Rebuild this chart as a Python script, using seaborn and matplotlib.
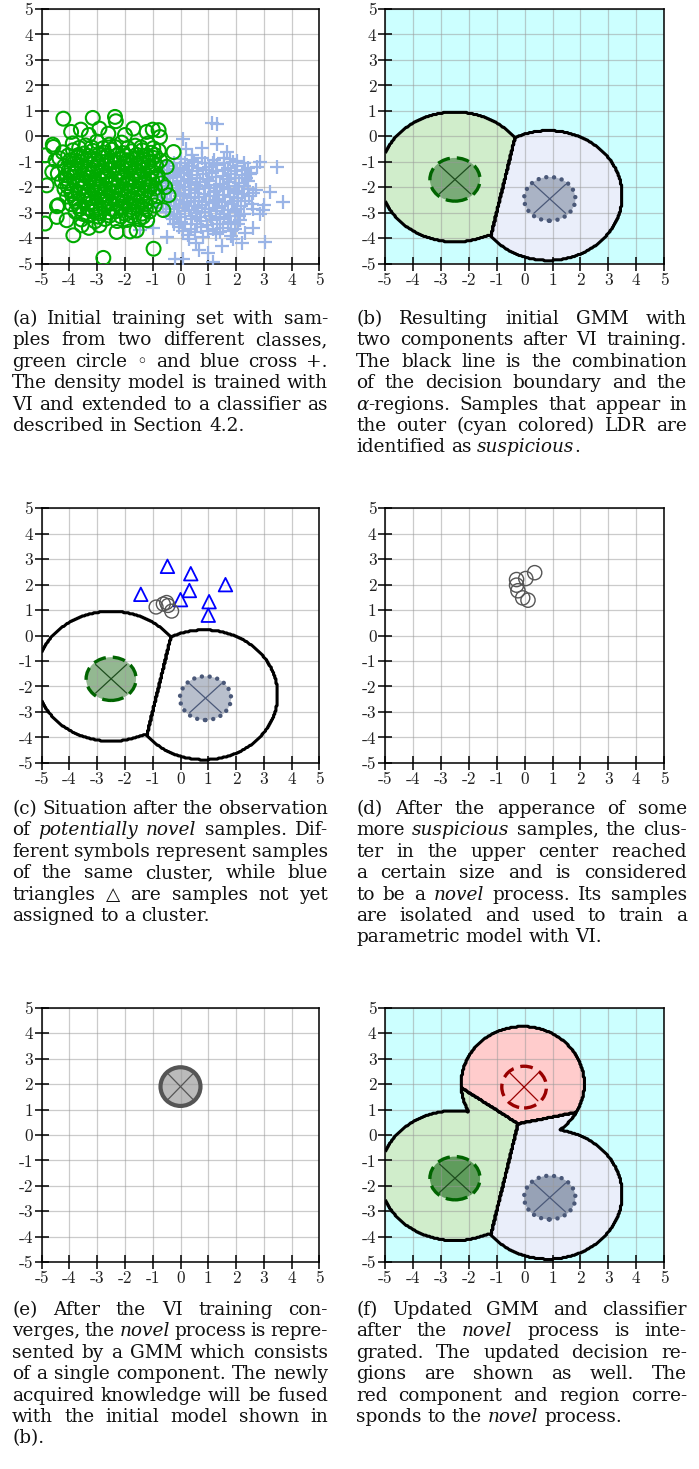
import numpy as np
import seaborn as sns
import matplotlib.pyplot as plt
from matplotlib.colors import ListedColormap
from matplotlib.patches import Ellipse

# ---------------- data ----------------
ticks = [-5, -4, -3, -2, -1, 0, 1, 2, 3, 4, 5]
tick_labels = ["-5", "-4", "-3", "-2", "-1", "0", "1", "2", "3", "4", "5"]

# (a) green circles: scattered outer samples
green_outer = [(-4.22, 0.69), (-3.16, 0.72), (-2.36, 0.76), (-2.33, 0.59), (-3.94, 0.17), (-3.59, 0.26),
               (-4.60, -0.33), (-4.58, -0.42), (-4.88, -0.75), (-4.82, -1.93), (-4.88, -3.43), (-4.46, -3.17),
               (-4.40, -2.71), (-3.86, -3.89), (-3.56, -3.50), (-2.92, -3.50), (-2.30, -3.76), (-1.82, -3.74),
               (-1.58, -3.70), (-0.97, -4.42), (-2.78, -4.78), (-0.25, -0.62), (-0.43, -2.32), (-1.00, 0.26),
               (-0.79, 0.24), (-0.74, -0.03), (-1.70, 0.30), (-1.22, 0.17), (-2.92, 0.30), (-2.60, 0.10),
               (-4.50, -0.95), (-4.45, -2.75), (-0.55, -2.00), (-0.50, -1.20), (-0.62, -2.90), (-1.20, -3.30),
               (-3.30, -3.60), (-4.10, -3.30), (-4.62, -1.40), (-2.00, 0.05), (-3.30, 0.05)]
# (a) green circles: dense core
green_core = [(-3.88, -0.28), (-3.42, -0.36), (-3.01, -0.21), (-2.57, -0.33), (-2.12, -0.25), (-1.63, -0.37), (-1.18, -0.29),
              (-3.65, -0.46), (-3.20, -0.44), (-2.78, -0.47), (-2.35, -0.43), (-1.90, -0.46), (-1.42, -0.44), (-0.98, -0.47),
              (-4.24, -0.63), (-3.87, -0.55), (-3.48, -0.68), (-3.16, -0.57), (-2.78, -0.64), (-2.47, -0.53), (-2.08, -0.66),
              (-1.77, -0.59), (-1.38, -0.55), (-1.06, -0.65), (-0.78, -0.57),
              (-4.05, -0.76), (-3.68, -0.74), (-3.32, -0.78), (-2.95, -0.73), (-2.62, -0.77), (-2.27, -0.74), (-1.93, -0.78),
              (-1.58, -0.73), (-1.22, -0.76), (-0.92, -0.74),
              (-4.36, -0.87), (-3.98, -0.95), (-3.72, -0.84), (-3.38, -0.93), (-3.12, -0.89), (-2.77, -0.84), (-2.52, -0.97),
              (-2.18, -0.88), (-1.92, -0.94), (-1.57, -0.86), (-1.32, -0.92), (-0.98, -0.85), (-0.73, -0.95),
              (-3.83, -1.06), (-3.57, -1.02), (-3.23, -1.09), (-2.96, -1.03), (-2.63, -1.07), (-2.37, -1.01), (-2.03, -1.08),
              (-1.77, -1.04), (-1.43, -1.06), (-1.16, -1.02),
              (-4.18, -1.17), (-3.92, -1.25), (-3.58, -1.15), (-3.32, -1.23), (-2.98, -1.19), (-2.72, -1.14), (-2.38, -1.26),
              (-2.12, -1.18), (-1.78, -1.24), (-1.52, -1.16), (-1.18, -1.22), (-0.88, -1.15),
              (-4.03, -1.36), (-3.77, -1.32), (-3.43, -1.38), (-3.17, -1.33), (-2.83, -1.37), (-2.57, -1.31), (-2.23, -1.39),
              (-1.97, -1.34), (-1.63, -1.36), (-1.37, -1.32), (-1.03, -1.38),
              (-4.42, -1.47), (-4.08, -1.54), (-3.82, -1.45), (-3.48, -1.53), (-3.22, -1.49), (-2.88, -1.44), (-2.62, -1.56),
              (-2.28, -1.48), (-2.02, -1.54), (-1.68, -1.46), (-1.42, -1.52), (-1.08, -1.45), (-0.82, -1.55),
              (-4.13, -1.66), (-3.87, -1.62), (-3.53, -1.68), (-3.27, -1.63), (-2.93, -1.67), (-2.67, -1.61), (-2.33, -1.69),
              (-2.07, -1.64), (-1.73, -1.66), (-1.47, -1.62), (-1.13, -1.68), (-0.87, -1.63),
              (-4.28, -1.77), (-4.02, -1.85), (-3.68, -1.75), (-3.42, -1.83), (-3.08, -1.79), (-2.82, -1.74), (-2.48, -1.86),
              (-2.22, -1.78), (-1.88, -1.84), (-1.62, -1.76), (-1.28, -1.82), (-1.02, -1.75), (-0.68, -1.85),
              (-4.07, -1.96), (-3.73, -1.92), (-3.47, -1.98), (-3.13, -1.93), (-2.87, -1.97), (-2.53, -1.91), (-2.27, -1.99),
              (-1.93, -1.94), (-1.67, -1.96), (-1.33, -1.92), (-1.07, -1.98),
              (-4.18, -2.07), (-3.92, -2.15), (-3.58, -2.05), (-3.32, -2.13), (-2.98, -2.09), (-2.72, -2.04), (-2.38, -2.16),
              (-2.12, -2.08), (-1.78, -2.14), (-1.52, -2.06), (-1.18, -2.12), (-0.92, -2.05),
              (-3.93, -2.26), (-3.67, -2.22), (-3.33, -2.28), (-3.07, -2.23), (-2.73, -2.27), (-2.47, -2.21), (-2.13, -2.29),
              (-1.87, -2.24), (-1.53, -2.26), (-1.27, -2.22),
              (-4.08, -2.37), (-3.82, -2.45), (-3.48, -2.35), (-3.22, -2.43), (-2.88, -2.39), (-2.62, -2.34), (-2.28, -2.46),
              (-2.02, -2.38), (-1.68, -2.44), (-1.42, -2.36), (-1.08, -2.42), (-0.82, -2.35),
              (-3.77, -2.56), (-3.43, -2.52), (-3.17, -2.58), (-2.83, -2.53), (-2.57, -2.57), (-2.23, -2.51), (-1.97, -2.59),
              (-1.63, -2.54), (-1.37, -2.56),
              (-3.93, -2.67), (-3.67, -2.75), (-3.33, -2.65), (-3.07, -2.73), (-2.73, -2.69), (-2.47, -2.64), (-2.13, -2.76),
              (-1.87, -2.68), (-1.53, -2.74), (-1.27, -2.66), (-0.93, -2.72),
              (-3.63, -2.86), (-3.35, -2.83), (-3.05, -2.88), (-2.75, -2.84), (-2.45, -2.87), (-2.15, -2.83), (-1.85, -2.88),
              (-1.55, -2.84), (-1.25, -2.86),
              (-3.78, -2.97), (-3.52, -3.05), (-3.18, -2.95), (-2.92, -3.03), (-2.58, -2.99), (-2.32, -2.94), (-1.98, -3.06),
              (-1.72, -2.98), (-1.38, -3.04), (-1.12, -2.96),
              (-3.33, -3.13), (-2.95, -3.16), (-2.55, -3.12), (-2.15, -3.15), (-1.75, -3.13), (-1.35, -3.16),
              (-3.57, -3.27), (-3.08, -3.34), (-2.72, -3.25), (-2.28, -3.33), (-1.92, -3.29), (-1.48, -3.26)]

# (a) blue crosses: scattered outer samples
blue_outer = [(1.12, 0.52), (1.30, 0.48), (0.10, -0.12), (3.46, -1.20), (2.86, -1.00), (3.22, -2.19), (3.68, -2.58),
              (3.04, -4.15), (2.32, -3.79), (0.68, -4.46), (-0.20, -4.81), (0.10, -4.84), (1.18, -4.94), (-1.34, -1.49),
              (-0.98, -3.60), (-1.46, -3.70), (1.90, -4.02), (2.62, -2.84), (2.98, -2.90), (2.74, -1.21), (1.78, -0.88),
              (1.66, -0.62), (0.76, -0.48), (0.40, -0.75), (2.20, -4.20), (1.50, -4.30), (0.30, -4.05), (-0.50, -3.95),
              (-0.70, -1.00), (2.50, -1.50), (2.60, -3.60), (1.30, -0.30), (0.20, -0.50), (-0.20, -1.30), (3.00, -2.70),
              (2.85, -3.05), (1.00, -4.60), (0.55, -4.20), (-0.90, -2.80), (-1.10, -2.20)]
# (a) blue crosses: dense core
blue_core = [(0.02, -0.88), (0.43, -0.95), (0.78, -0.86), (1.22, -0.93), (1.58, -0.87), (2.03, -0.96),
             (-0.22, -1.04), (0.17, -1.06), (0.48, -1.03), (0.87, -1.07), (1.18, -1.04), (1.57, -1.06), (1.88, -1.03),
             (2.27, -1.07),
             (-0.42, -1.17), (-0.03, -1.25), (0.32, -1.15), (0.63, -1.23), (1.03, -1.19), (1.33, -1.14), (1.72, -1.26),
             (2.03, -1.18), (2.42, -1.24),
             (-0.47, -1.34), (-0.13, -1.37), (0.22, -1.33), (0.58, -1.36), (0.92, -1.34), (1.27, -1.37), (1.62, -1.33),
             (1.97, -1.36), (2.33, -1.34),
             (-0.58, -1.47), (-0.27, -1.54), (0.12, -1.45), (0.43, -1.53), (0.82, -1.49), (1.13, -1.44), (1.52, -1.56),
             (1.83, -1.48), (2.22, -1.54), (2.53, -1.46),
             (-0.43, -1.66), (-0.12, -1.62), (0.27, -1.68), (0.58, -1.63), (0.97, -1.67), (1.28, -1.61), (1.67, -1.69),
             (1.98, -1.64), (2.37, -1.66),
             (-0.68, -1.77), (-0.37, -1.85), (0.02, -1.75), (0.33, -1.83), (0.72, -1.79), (1.03, -1.74), (1.42, -1.86),
             (1.73, -1.78), (2.12, -1.84), (2.43, -1.76),
             (-0.52, -1.96), (-0.13, -1.92), (0.18, -1.98), (0.57, -1.93), (0.88, -1.97), (1.27, -1.91), (1.58, -1.99),
             (1.97, -1.94), (2.28, -1.96),
             (-0.77, -2.07), (-0.38, -2.15), (-0.07, -2.05), (0.32, -2.13), (0.63, -2.09), (1.02, -2.04), (1.33, -2.16),
             (1.72, -2.08), (2.03, -2.14), (2.42, -2.06), (2.73, -2.12),
             (-0.57, -2.26), (-0.18, -2.22), (0.13, -2.28), (0.52, -2.23), (0.83, -2.27), (1.22, -2.21), (1.53, -2.29),
             (1.92, -2.24), (2.23, -2.26), (2.62, -2.22),
             (-0.72, -2.37), (-0.33, -2.45), (-0.02, -2.35), (0.37, -2.43), (0.68, -2.39), (1.07, -2.34), (1.38, -2.46),
             (1.77, -2.38), (2.08, -2.44), (2.47, -2.36),
             (-0.48, -2.56), (-0.17, -2.52), (0.22, -2.58), (0.53, -2.53), (0.92, -2.57), (1.23, -2.51), (1.62, -2.59),
             (1.93, -2.54), (2.32, -2.56),
             (-0.62, -2.67), (-0.23, -2.75), (0.08, -2.65), (0.47, -2.73), (0.78, -2.69), (1.17, -2.64), (1.48, -2.76),
             (1.87, -2.68), (2.18, -2.74), (2.57, -2.66),
             (-0.38, -2.86), (-0.07, -2.82), (0.32, -2.88), (0.63, -2.83), (1.02, -2.87), (1.33, -2.81), (1.72, -2.89),
             (2.03, -2.84),
             (-0.52, -2.97), (-0.13, -3.05), (0.18, -2.95), (0.57, -3.03), (0.88, -2.99), (1.27, -2.94), (1.58, -3.06),
             (1.97, -2.98), (2.28, -3.04),
             (-0.38, -3.14), (-0.02, -3.16), (0.37, -3.13), (0.72, -3.17), (1.07, -3.14), (1.42, -3.16), (1.77, -3.13),
             (2.12, -3.15),
             (-0.28, -3.27), (0.03, -3.35), (0.42, -3.25), (0.73, -3.33), (1.12, -3.29), (1.43, -3.24), (1.82, -3.36),
             (2.13, -3.28),
             (-0.22, -3.44), (0.17, -3.46), (0.58, -3.43), (0.97, -3.47), (1.33, -3.44), (1.72, -3.46), (2.08, -3.43),
             (-0.07, -3.57), (0.37, -3.65), (0.73, -3.55), (1.17, -3.63), (1.53, -3.59), (1.97, -3.64),
             (0.08, -3.74), (0.52, -3.76), (0.98, -3.73), (1.42, -3.77), (1.82, -3.74),
             (0.28, -3.87), (0.82, -3.95), (1.28, -3.86), (1.83, -3.93)]

# (c) unassigned samples (triangles) and first cluster (gray circles)
triangle_pts = [(-0.47, 2.72), (0.37, 2.43), (-1.43, 1.62), (0.32, 1.77), (0.0, 1.41), (1.62, 2.0), (1.03, 1.33), (1.0, 0.8)]
cluster_c = [(-0.88, 1.12), (-0.62, 1.24), (-0.5, 1.3), (-0.45, 1.18), (-0.32, 0.96)]
# (d) isolated novel cluster
cluster_d = [(0.36, 2.47), (0.04, 2.24), (-0.29, 2.2), (-0.29, 1.98), (-0.24, 1.76), (-0.07, 1.48), (0.12, 1.39)]

# GMM components (green class, blue class, novel red class)
comp_center = [(-2.5, -1.7), (0.9, -2.46), (-0.02, 1.88)]
comp_radius = [(0.9, 0.85), (0.92, 0.86), (0.8, 0.82)]
# alpha-regions of the components and decision offsets
region_center = [(-2.5, -1.6), (0.85, -2.33), (-0.07, 2.0)]
region_radius = [(2.7, 2.55), (2.65, 2.55), (2.21, 2.26)]
region_bias = [0.0, 0.0, -7.6]
# (e) novel component alone
novel_center = (0.0, 1.9)
novel_radius = (0.72, 0.76)

region_colors = ["#ccffff", "#d0edcb", "#eaeefa", "#ffcccc"]

captions = {
    "a": ["(a) Initial training set with sam-",
          "ples from two different classes,",
          "green circle \u25e6 and blue cross +.",
          "The density model is trained with",
          "VI and extended to a classifier as",
          "described in Section 4.2."],
    "b": ["(b) Resulting initial GMM with",
          "two components after VI training.",
          "The black line is the combination",
          "of the decision boundary and the",
          "_\u03b1_-regions. Samples that appear in",
          "the outer (cyan colored) LDR are",
          "identified as _suspicious_."],
    "c": ["(c) Situation after the observation",
          "of _potentially_ _novel_ samples. Dif-",
          "ferent symbols represent samples",
          "of the same cluster, while blue",
          "triangles \u25b3 are samples not yet",
          "assigned to a cluster."],
    "d": ["(d) After the apperance of some",
          "more _suspicious_ samples, the clus-",
          "ter in the upper center reached",
          "a certain size and is considered",
          "to be a _novel_ process. Its samples",
          "are isolated and used to train a",
          "parametric model with VI."],
    "e": ["(e) After the VI training con-",
          "verges, the _novel_ process is repre-",
          "sented by a GMM which consists",
          "of a single component. The newly",
          "acquired knowledge will be fused",
          "with the initial model shown in",
          "(b)."],
    "f": ["(f) Updated GMM and classifier",
          "after the _novel_ process is inte-",
          "grated. The updated decision re-",
          "gions are shown as well. The",
          "red component and region corre-",
          "sponds to the _novel_ process."],
}

# ---------------- drawing ----------------
sns.set_theme(style="white")
plt.rcParams["axes.unicode_minus"] = False
plt.rcParams["font.family"] = ["DejaVu Serif", "DejaVu Sans"]

W, H = 699, 1469
fig = plt.figure(figsize=(W / 100, H / 100), dpi=100)
fig.patch.set_facecolor("white")

gx = np.linspace(-5, 5, 241)
GX, GY = np.meshgrid(gx, gx)


def make_ax(left, top, w, h):
    ax = fig.add_axes([left / W, 1 - (top + h) / H, w / W, h / H])
    ax.set_facecolor("white")
    ax.set_xlim(-5, 5)
    ax.set_ylim(-5, 5)
    ax.set_xticks(ticks)
    ax.set_xticklabels(tick_labels)
    ax.set_yticks(ticks)
    ax.set_yticklabels(tick_labels)
    ax.grid(True, color="#999999", alpha=0.5, lw=0.9)
    ax.set_axisbelow("line")
    ax.tick_params(direction="inout", length=9.5, width=1.1, pad=1.5, labelsize=12.5,
                   labelcolor="#222222", color="black", labelfontfamily="cmr10",
                   bottom=True, left=True, top=False, right=False)
    for s in ax.spines.values():
        s.set_linewidth(1.1)
        s.set_color("black")
    return ax


def region_map(n):
    inside = np.zeros(GX.shape, bool)
    scores = []
    for k in range(n):
        (cx, cy), (rx, ry) = region_center[k], region_radius[k]
        inside |= ((GX - cx) / rx) ** 2 + ((GY - cy) / ry) ** 2 <= 1
        mx, my = comp_center[k]
        scores.append(-((GX - mx) ** 2 + (GY - my) ** 2) + region_bias[k])
    lab = np.argmax(scores, axis=0) + 1
    return np.where(inside, lab, 0)


def draw_regions(ax, n, fill):
    lab = region_map(n)
    if fill:
        ax.imshow(lab, extent=(-5, 5, -5, 5), origin="lower", aspect="auto",
                  cmap=ListedColormap(region_colors), vmin=-0.5, vmax=3.5,
                  interpolation="nearest", zorder=0)
    for k in range(1, n + 1):
        ax.contour(GX, GY, (lab == k).astype(float), levels=[0.5], colors="black",
                   linewidths=2.2, zorder=3)
    ax.set_xlim(-5, 5)
    ax.set_ylim(-5, 5)


def draw_comp(ax, center, radius, face, edge, ls, lw, xcol, cap="butt"):
    (cx, cy), (rx, ry) = center, radius
    if face is not None:
        ax.add_patch(Ellipse((cx, cy), 2 * rx, 2 * ry, facecolor=face, edgecolor="none", zorder=1))
    e = Ellipse((cx, cy), 2 * rx, 2 * ry, fill=False, edgecolor=edge, lw=lw, ls=ls, zorder=4)
    e.set_capstyle(cap)
    ax.add_patch(e)
    dx, dy = 0.62 * rx, 0.66 * ry
    ax.plot([cx - dx, cx + dx], [cy + dy, cy - dy], color=xcol, lw=0.9, zorder=4)
    ax.plot([cx - dx, cx + dx], [cy - dy, cy + dy], color=xcol, lw=0.9, zorder=4)


def comps(ax, greenface, blueface, red=False):
    draw_comp(ax, comp_center[0], comp_radius[0], greenface, "#006400", (0, (3.8, 2.1)), 2.4, "#1e4d1e")
    draw_comp(ax, comp_center[1], comp_radius[1], blueface, "#4a5878", (0, (0.01, 1.75)), 3.2, "#4a5878", cap="round")
    if red:
        draw_comp(ax, comp_center[2], comp_radius[2], None, "#990000", (0, (3.8, 2.1)), 2.4, "#990000")


def pts(p):
    return [a for a, b in p], [b for a, b in p]


COLS = [(41.7, 277.6), (385.3, 278.7)]
ROWS = [9.0, 508.3, 1007.7]
AH = 254.5

# (a)
ax = make_ax(COLS[0][0], ROWS[0], COLS[0][1], AH)
bx, by = pts(blue_outer + blue_core)
sns.scatterplot(x=bx, y=by, ax=ax, marker="+", s=100, color="#9ab4e6", linewidth=1.6, zorder=3, legend=False)
gxs, gys = pts(green_outer + green_core)
sns.scatterplot(x=gxs, y=gys, ax=ax, marker="o", s=100, color="#00aa00", facecolor="none",
                edgecolor="#00aa00", linewidth=1.5, zorder=3, legend=False)

# (b)
ax = make_ax(COLS[1][0], ROWS[0], COLS[1][1], AH)
draw_regions(ax, 2, True)
comps(ax, "#7aab78", "#aab3c5")

# (c)
ax = make_ax(COLS[0][0], ROWS[1], COLS[0][1], AH)
draw_regions(ax, 2, False)
comps(ax, "#93b891", "#b8bfcc")
tx, ty = pts(triangle_pts)
sns.scatterplot(x=tx, y=ty, ax=ax, marker="^", s=95, color="#0000ff", facecolor="none",
                edgecolor="#0000ff", linewidth=1.3, zorder=5, legend=False)
cx_, cy_ = pts(cluster_c)
sns.scatterplot(x=cx_, y=cy_, ax=ax, marker="o", s=100, color="#555555", facecolor="none",
                edgecolor="#555555", linewidth=1.0, zorder=5, legend=False)

# (d)
ax = make_ax(COLS[1][0], ROWS[1], COLS[1][1], AH)
dx_, dy_ = pts(cluster_d)
sns.scatterplot(x=dx_, y=dy_, ax=ax, marker="o", s=105, color="#555555", facecolor="none",
                edgecolor="#555555", linewidth=1.0, zorder=5, legend=False)

# (e)
ax = make_ax(COLS[0][0], ROWS[2], COLS[0][1], AH)
draw_comp(ax, novel_center, novel_radius, "#bbbbbb", "#555555", "-", 3.0, "#555555")

# (f)
ax = make_ax(COLS[1][0], ROWS[2], COLS[1][1], AH)
draw_regions(ax, 3, True)
comps(ax, "#5f9c5c", "#97a2b6", red=True)

# ---------------- captions (justified) ----------------
FS = 13.3
LINE = 21.4
renderer = fig.canvas.get_renderer()
probe1 = fig.text(0, 0, "a a", fontsize=FS)
probe2 = fig.text(0, 0, "aa", fontsize=FS)
SPACE = probe1.get_window_extent(renderer).width - probe2.get_window_extent(renderer).width
probe1.remove()
probe2.remove()


def caption(x0, x1, top, lines):
    for i, line in enumerate(lines):
        y = 1 - (top + i * LINE) / H
        words = []
        for tok in line.split(" "):
            segs = []
            for j, part in enumerate(tok.split("_")):
                if part:
                    segs.append(fig.text(0, y, part, fontsize=FS, color="#111111", va="baseline",
                                         style="italic" if j % 2 else "normal"))
            words.append(segs)
        widths = [[t.get_window_extent(renderer).width for t in segs] for segs in words]
        total = sum(sum(w) for w in widths)
        if i == len(lines) - 1 or len(words) < 2:
            gap = SPACE
        else:
            gap = (x1 - x0 - total) / (len(words) - 1)
        x = x0
        for segs, ws in zip(words, widths):
            for t, w in zip(segs, ws):
                t.set_x(x / W)
                x += w
            x += gap


CAP_X = [(12, 328), (356, 687)]
CAP_Y = [324, 814, 1315]
caption(*CAP_X[0], CAP_Y[0], captions["a"])
caption(*CAP_X[1], CAP_Y[0], captions["b"])
caption(*CAP_X[0], CAP_Y[1], captions["c"])
caption(*CAP_X[1], CAP_Y[1], captions["d"])
caption(*CAP_X[0], CAP_Y[2], captions["e"])
caption(*CAP_X[1], CAP_Y[2], captions["f"])

fig.savefig("out.png", dpi=100, facecolor="white")
